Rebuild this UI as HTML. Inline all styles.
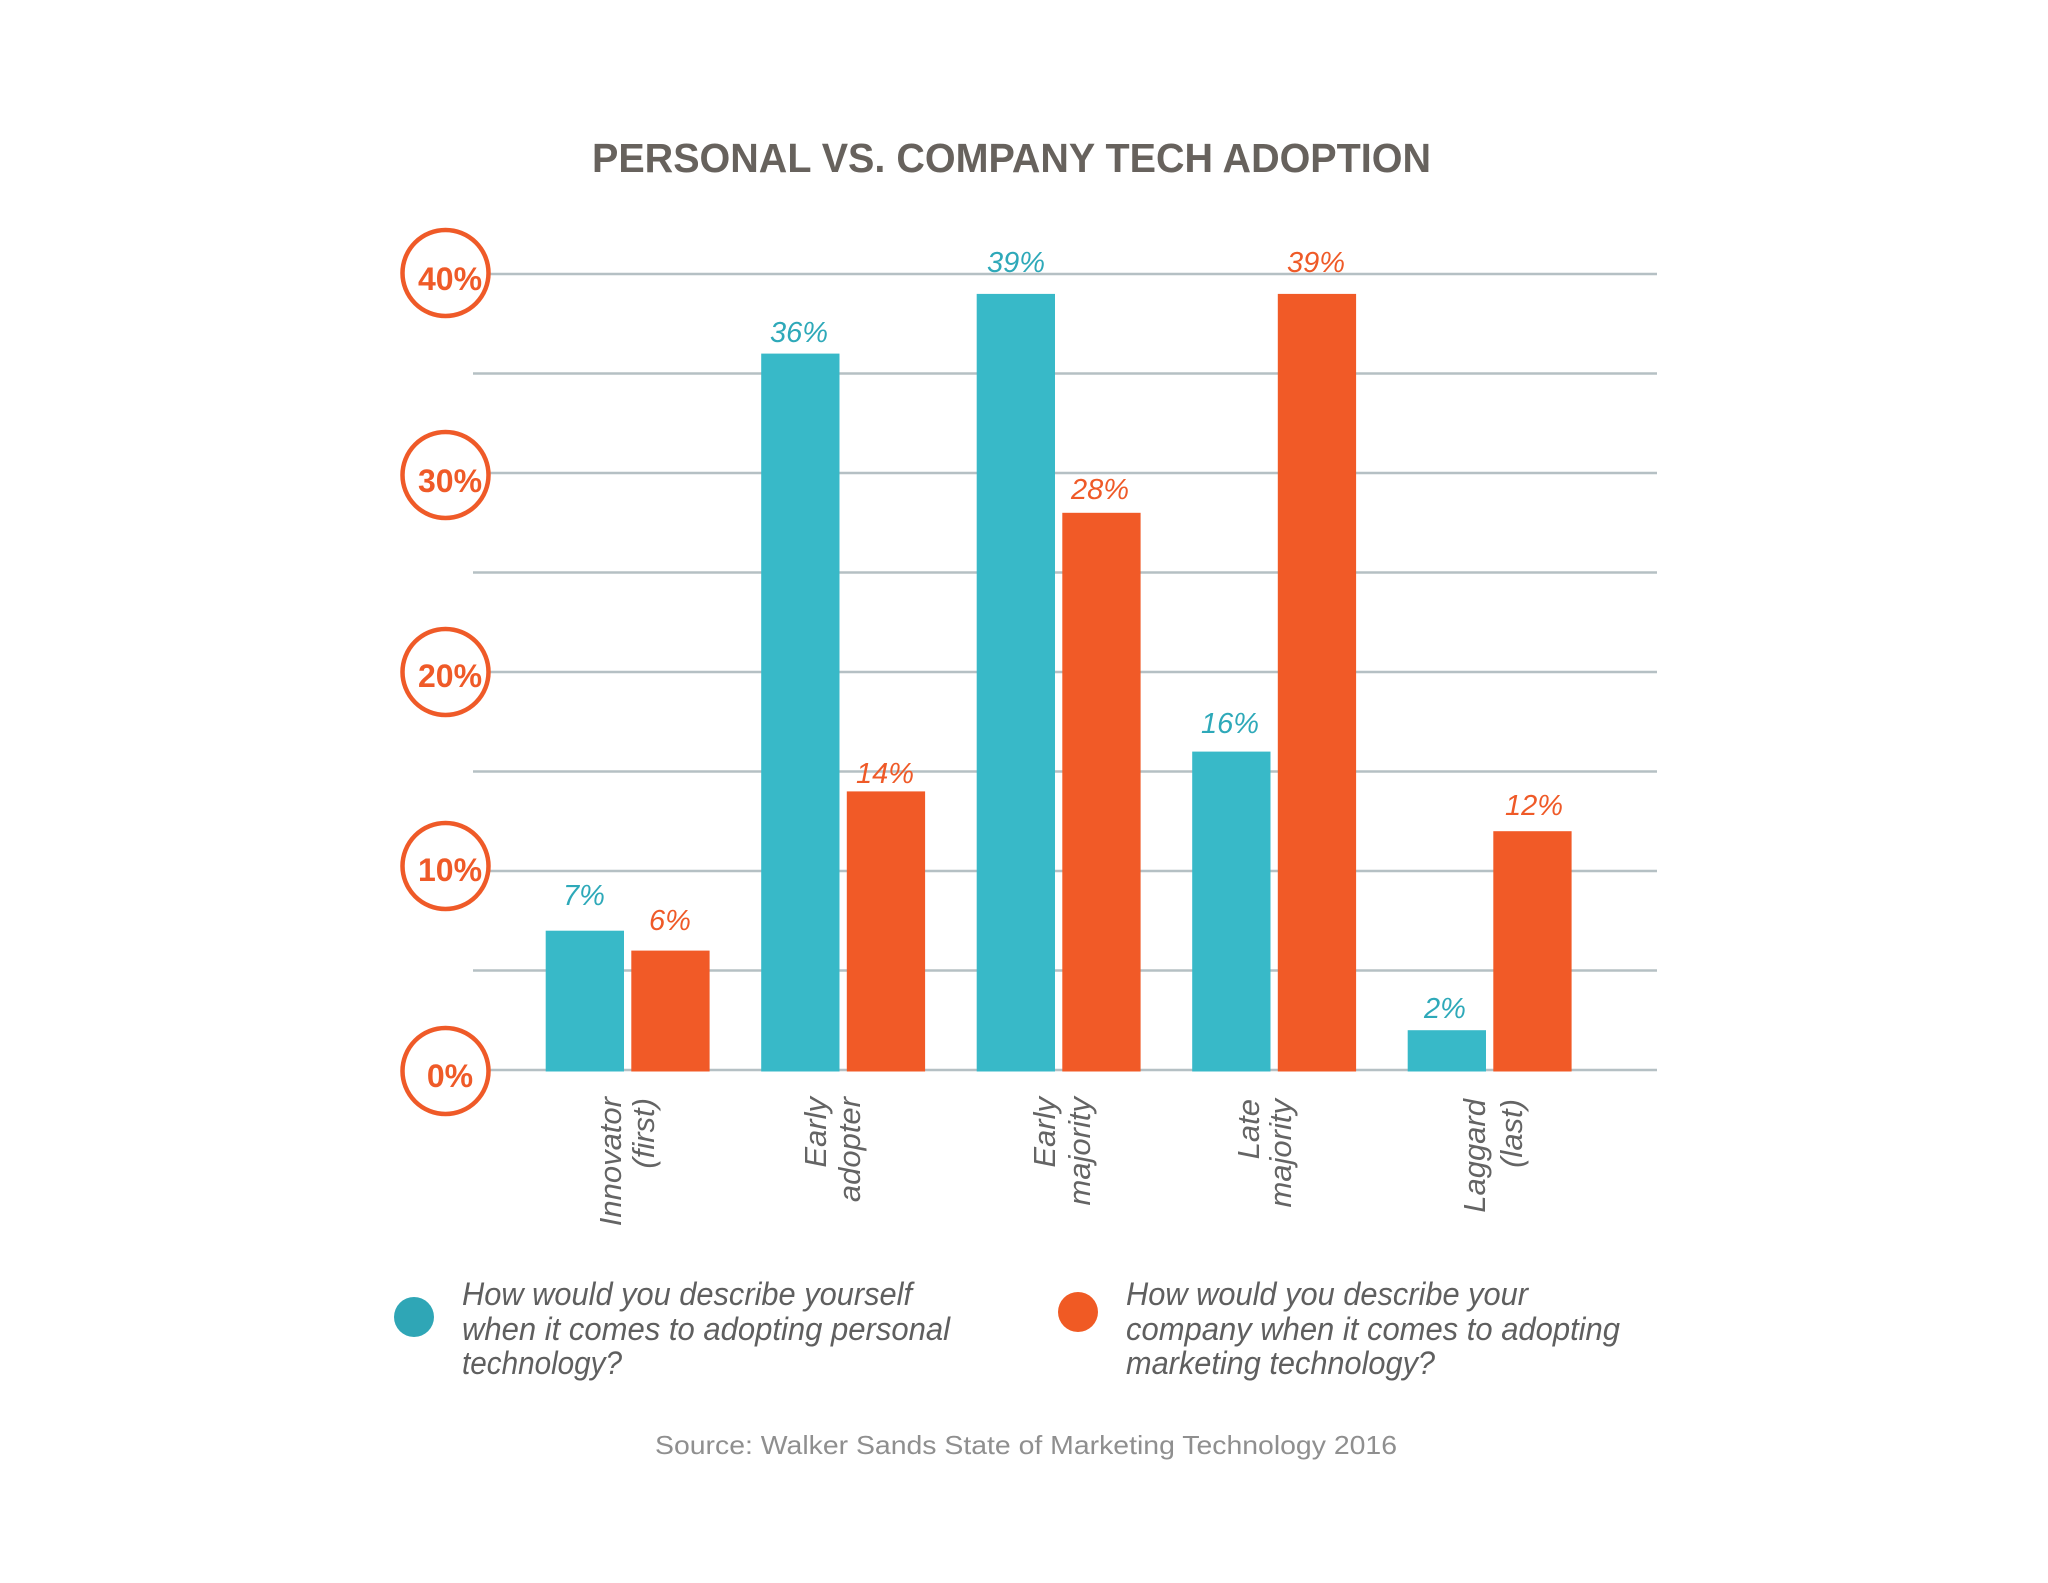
<!DOCTYPE html>
<html>
<head>
<meta charset="utf-8">
<style>
  html,body{margin:0;padding:0;background:#fff;}
  svg{display:block;}
  text{font-family:"Liberation Sans",sans-serif;}
</style>
</head>
<body>
<svg width="2048" height="1583" viewBox="0 0 2048 1583" xmlns="http://www.w3.org/2000/svg">
  <rect width="2048" height="1583" fill="#ffffff"/>

  <!-- Title -->
  <text x="592" y="172" font-size="40.5" font-weight="bold" fill="#67625d" textLength="839" lengthAdjust="spacingAndGlyphs">PERSONAL VS. COMPANY TECH ADOPTION</text>

  <!-- Gridlines -->
  <g stroke="#b5c0c4" stroke-width="2.6">
    <line x1="473" y1="274" x2="1657" y2="274"/>
    <line x1="473" y1="373.5" x2="1657" y2="373.5"/>
    <line x1="473" y1="473" x2="1657" y2="473"/>
    <line x1="473" y1="572.5" x2="1657" y2="572.5"/>
    <line x1="473" y1="672" x2="1657" y2="672"/>
    <line x1="473" y1="771.5" x2="1657" y2="771.5"/>
    <line x1="473" y1="871" x2="1657" y2="871"/>
    <line x1="473" y1="970.5" x2="1657" y2="970.5"/>
    <line x1="473" y1="1070" x2="1657" y2="1070"/>
  </g>

  <!-- Y axis circles -->
  <g fill="#ffffff" stroke="#ef5a28" stroke-width="4.5">
    <circle cx="445.5" cy="273" r="43"/>
    <circle cx="445.5" cy="475" r="43"/>
    <circle cx="445.5" cy="672" r="43"/>
    <circle cx="445.5" cy="866" r="43"/>
    <circle cx="445.5" cy="1071" r="43"/>
  </g>
  <g font-size="32" font-weight="bold" fill="#ef5a28" text-anchor="middle">
    <text x="450" y="290">40%</text>
    <text x="450" y="492">30%</text>
    <text x="450" y="687">20%</text>
    <text x="450" y="881">10%</text>
    <text x="450" y="1087">0%</text>
  </g>

  <!-- Bars -->
  <g fill="#38b9c8">
    <rect x="545.7" y="930.7" width="78.3" height="140.8"/>
    <rect x="761.2" y="353.6" width="78.3" height="717.9"/>
    <rect x="976.7" y="293.9" width="78.3" height="777.6"/>
    <rect x="1192.2" y="751.6" width="78.3" height="319.9"/>
    <rect x="1407.7" y="1030.2" width="78.3" height="41.3"/>
  </g>
  <g fill="#f15a27">
    <rect x="631.3" y="950.6" width="78.3" height="120.9"/>
    <rect x="846.8" y="791.4" width="78.3" height="280.1"/>
    <rect x="1062.3" y="512.8" width="78.3" height="558.7"/>
    <rect x="1277.8" y="293.9" width="78.3" height="777.6"/>
    <rect x="1493.3" y="831.2" width="78.3" height="240.3"/>
  </g>

  <!-- Value labels -->
  <g font-size="29" font-style="italic" text-anchor="middle">
    <text x="584" y="905" fill="#2ea9b9">7%</text>
    <text x="670" y="930" fill="#ef5a28">6%</text>
    <text x="799" y="342" fill="#2ea9b9">36%</text>
    <text x="885" y="783" fill="#ef5a28">14%</text>
    <text x="1016" y="272" fill="#2ea9b9">39%</text>
    <text x="1100" y="499" fill="#ef5a28">28%</text>
    <text x="1230" y="733" fill="#2ea9b9">16%</text>
    <text x="1316" y="272" fill="#ef5a28">39%</text>
    <text x="1445" y="1018" fill="#2ea9b9">2%</text>
    <text x="1534" y="815" fill="#ef5a28">12%</text>
  </g>

  <!-- Category labels (rotated) -->
  <g font-size="31" font-style="italic" fill="#646464" text-anchor="end">
    <text transform="translate(621,1097) rotate(-90)">Innovator</text>
    <text transform="translate(654,1098) rotate(-90)">(first)</text>
    <text transform="translate(826,1097) rotate(-90)">Early</text>
    <text transform="translate(860,1097) rotate(-90)">adopter</text>
    <text transform="translate(1055,1097) rotate(-90)">Early</text>
    <text transform="translate(1090,1097) rotate(-90)">majority</text>
    <text transform="translate(1259,1099) rotate(-90)">Late</text>
    <text transform="translate(1291,1099) rotate(-90)">majority</text>
    <text transform="translate(1485,1099) rotate(-90)">Laggard</text>
    <text transform="translate(1522,1099) rotate(-90)">(last)</text>
  </g>

  <!-- Legend -->
  <circle cx="414" cy="1317" r="20" fill="#2fa6b6"/>
  <circle cx="1078" cy="1312" r="20" fill="#f05a24"/>
  <g font-size="32" font-style="italic" fill="#5f5f5f">
    <text x="462" y="1305" textLength="450" lengthAdjust="spacingAndGlyphs">How would you describe yourself</text>
    <text x="462" y="1340" textLength="488" lengthAdjust="spacingAndGlyphs">when it comes to adopting personal</text>
    <text x="462" y="1374" textLength="160" lengthAdjust="spacingAndGlyphs">technology?</text>
    <text x="1126" y="1305" textLength="402" lengthAdjust="spacingAndGlyphs">How would you describe your</text>
    <text x="1126" y="1340" textLength="494" lengthAdjust="spacingAndGlyphs">company when it comes to adopting</text>
    <text x="1126" y="1374" textLength="309" lengthAdjust="spacingAndGlyphs">marketing technology?</text>
  </g>

  <!-- Source -->
  <text x="655" y="1454" font-size="26" fill="#8f8f8f" textLength="742" lengthAdjust="spacingAndGlyphs">Source: Walker Sands State of Marketing Technology 2016</text>
</svg>
</body>
</html>
